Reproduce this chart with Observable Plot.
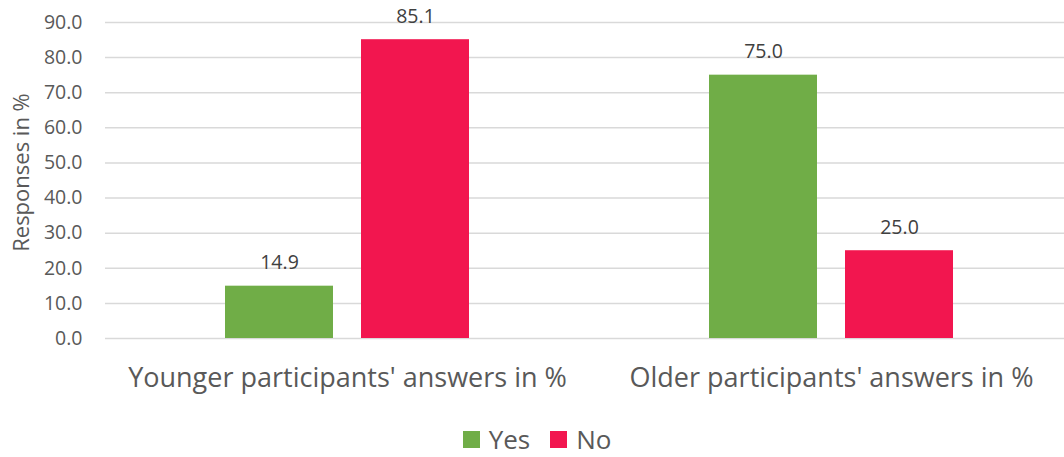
<!DOCTYPE html>
<html>
<head>
<meta charset="utf-8">
<script src="https://cdn.jsdelivr.net/npm/d3@7"></script>
<script src="https://cdn.jsdelivr.net/npm/@observablehq/plot@0.6"></script>
<style>
  html, body { margin: 0; background: #fff; font-family: "Open Sans", sans-serif; overflow: hidden; }
  #chart { width: 1064px; }
  .legend { display: flex; justify-content: center; align-items: center; height: 68px; font-size: 26px; color: #595959; padding-left: 10px; }
  .legend .item { display: flex; align-items: center; margin: 0 10px; }
  .legend .sw { width: 17px; height: 17px; margin-right: 9px; }
</style>
</head>
<body>
<div id="chart"></div>
<script>
const groups = ["Younger participants' answers in %", "Older participants' answers in %"];
const answers = ["Yes", "No"];
const yesValues = [14.9, 75.0];
const noValues = [85.1, 25.0];
const colors = ["#70AD47", "#F2164F"];
const yTicks = [0, 10, 20, 30, 40, 50, 60, 70, 80, 90];

const data = [];
groups.forEach((g, i) => {
  data.push({group: g, answer: "Yes", value: yesValues[i]});
  data.push({group: g, answer: "No", value: noValues[i]});
});

const chart = Plot.plot({
  width: 1064,
  height: 405,
  marginLeft: 105,
  marginRight: -9,
  marginTop: 22,
  marginBottom: 67,
  style: {fontFamily: "Open Sans, sans-serif", color: "#595959", background: "#fff"},
  fx: {domain: groups, padding: 0, label: null},
  x: {domain: answers, paddingInner: 0.206, paddingOuter: 0.882, axis: null},
  y: {domain: [0, 90], label: null},
  color: {domain: answers, range: colors},
  marks: [
    Plot.ruleY(yTicks, {stroke: "#D9D9D9", strokeWidth: 1.5}),
    Plot.axisY({ticks: yTicks, tickFormat: d => d.toFixed(1), tickSize: 0, tickPadding: 23, fontSize: 19.5, fill: "#595959", label: null}),
    Plot.axisFx({anchor: "bottom", tickSize: 0, tickPadding: 29, fontSize: 27, fill: "#595959", label: null}),
    Plot.barY(data, {fx: "group", x: "answer", y: "value", fill: "answer"}),
    Plot.text(data, {fx: "group", x: "answer", y: "value", text: d => d.value.toFixed(1), dy: -23, fontSize: 19.5, fill: "#404040"}),
    Plot.text(["Responses in %"], {frameAnchor: "left", facet: "super", rotate: -90, textAnchor: "middle", dx: -84, dy: -8, fontSize: 22, fill: "#595959", text: d => d})
  ]
});
document.getElementById("chart").appendChild(chart);

const legend = document.createElement("div");
legend.className = "legend";
answers.forEach((a, i) => {
  const item = document.createElement("div");
  item.className = "item";
  const sw = document.createElement("span");
  sw.className = "sw";
  sw.style.background = colors[i];
  const lab = document.createElement("span");
  lab.textContent = a;
  item.appendChild(sw);
  item.appendChild(lab);
  legend.appendChild(item);
});
document.getElementById("chart").appendChild(legend);
</script>
</body>
</html>
